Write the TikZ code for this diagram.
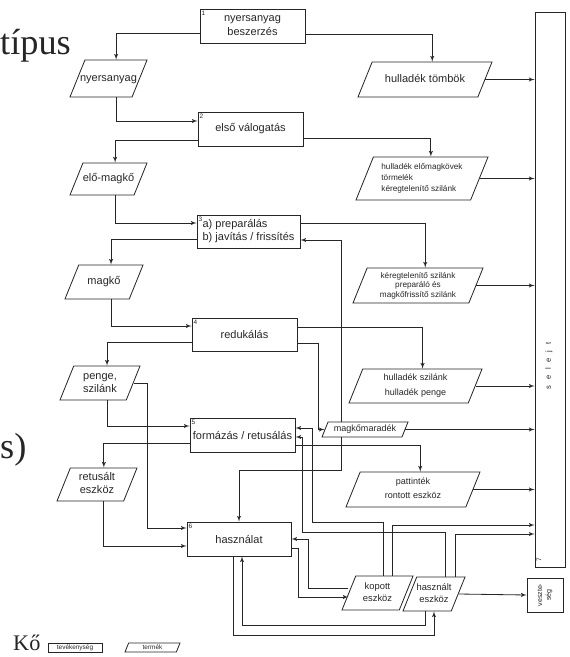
\documentclass[tikz,border=0pt]{standalone}
\usepackage{graphicx}
\usepackage{fontspec}
\setmainfont{Liberation Sans}
\newfontfamily\slidefont{Liberation Serif}
\usepackage{tikz}
\usetikzlibrary{arrows}
\usetikzlibrary{shapes.geometric}
\tikzstyle{act} = [rectangle, draw, line width=0.7pt, inner sep=1pt,
align=center, font=\fontsize{9.4}{12}\selectfont]
\tikzstyle{prod} = [trapezium, draw, line width=0.7pt, trapezium left angle=68,
trapezium right angle=112, trapezium stretches body, inner xsep=-5pt,
align=center, font=\fontsize{9.4}{11}\selectfont, text height=7pt, text depth=2.5pt]
\tikzstyle{num} = [font=\fontsize{5.5}{6}\selectfont, inner sep=1.5pt, anchor=north west]
\tikzstyle{frag} = [inner sep=0pt, font=\slidefont\fontsize{31}{31}\selectfont]
\tikzstyle{line} = [draw, -latex', line width=0.7pt]

\begin{document}
\begin{tikzpicture}[x=0.03cm, y=-0.03cm, color=black!85]
	\useasboundingbox (0,0) rectangle (569,657);
	% slide text behind the scan
	\node [frag, anchor=base west] at (0,55) (frag1) {típus};
	\node [frag, anchor=base west] at (0,458) (frag2) {s)};
	\node [frag, anchor=base west, font=\slidefont\fontsize{19}{19}\selectfont] at (13,650) (frag3) {Kő};
	% activities
	\node [act, minimum width=3.15cm, minimum height=1.02cm, label={[num]north west:1}] at (252.5,26) (act1) {nyersanyag\\beszerzés};
	\node [act, minimum width=3.15cm, minimum height=1.02cm, label={[num]north west:2}] at (250.5,129) (act2) {első válogatás};
	\node [act, minimum width=3.09cm, minimum height=0.99cm, align=left, font=\fontsize{9.4}{11}\selectfont, label={[num]north west:3}] at (248.5,231.5) (act3) {a) preparálás\\b) javítás / frissítés};
	\node [act, minimum width=3.15cm, minimum height=0.99cm, label={[num]north west:4}] at (244.5,334.5) (act4) {redukálás};
	\node [act, minimum width=3.15cm, minimum height=1.02cm, label={[num]north west:5}] at (242.5,435) (act5) {formázás / retusálás};
	\node [act, minimum width=3.12cm, minimum height=1.02cm, label={[num]north west:6}] at (239,539) (act6) {használat};
	\node [draw, line width=0.7pt, minimum width=0.9cm, minimum height=16.65cm, inner sep=0pt] at (550,289.5) (selejt) {};
	\node [rotate=90, font=\fontsize{6.5}{7}\selectfont] at (549,366) (selejttext) {s\hspace{.75em}e\hspace{.75em}l\hspace{.75em}e\hspace{.75em}j\hspace{.75em}t};
	\node [num, rotate=90, anchor=center] at (539,560) (selejtnum) {7};
	\node [draw, line width=0.7pt, minimum width=1.08cm, minimum height=1.02cm, inner sep=0pt, font=\fontsize{6}{6.5}\selectfont] at (545,595) (vesz) {\rotatebox{90}{\shortstack{veszte-\\ség}}};
	% products
	\node [prod, minimum width=2.31cm, inner ysep=11pt] at (108.5,78.5) (nyers) {nyersanyag};
	\node [prod, minimum width=4.02cm, inner ysep=10.2pt] at (425,79.5) (tomb) {hulladék tömbök};
	\node [prod, minimum width=2.31cm, inner ysep=8.9pt] at (108.5,179) (elo) {elő-magkő};
	\node [prod, minimum width=3.96cm, inner ysep=5.5pt, align=left, font=\fontsize{7}{9.4}\selectfont, text height=24.1pt, text depth=1.6pt] at (422,178.5) (hulle) {hulladék előmagkövek\\törmelék\\kéregtelenítő szilánk};
	\node [prod, minimum width=2.34cm, inner ysep=9.75pt] at (104,282) (mag) {magkő};
	\node [prod, minimum width=3.9cm, inner ysep=3.3pt, font=\fontsize{7}{8.2}\selectfont, text height=21.7pt, text depth=1.6pt] at (418,285.5) (kereg) {kéregtelenítő szilánk\\preparáló és\\magkőfrissítő szilánk};
	\node [prod, minimum width=2.4cm, inner ysep=4.25pt, text height=18pt] at (100,383) (penge) {penge,\\szilánk};
	\node [prod, minimum width=3.99cm, inner ysep=4.35pt, font=\fontsize{7.7}{12.8}\selectfont, text height=18.6pt, text depth=1.7pt] at (415.5,386) (hszil) {hulladék szilánk\\hulladék penge};
	\node [prod, minimum width=2.58cm, inner ysep=2.5pt, font=\fontsize{7.7}{9}\selectfont, text height=5.8pt, text depth=2pt] at (365,429.5) (marad) {magkőmaradék};
	\node [prod, minimum width=2.4cm, inner ysep=3.85pt, text height=18pt] at (97,484.5) (retus) {retusált\\eszköz};
	\node [prod, minimum width=4.02cm, inner ysep=5.2pt, font=\fontsize{7.7}{12}\selectfont, text height=17.8pt, text depth=1.7pt] at (413,489.5) (patt) {pattinték\\rontott eszköz};
	\node [prod, minimum width=2.13cm, inner ysep=5.85pt, font=\fontsize{8}{9.5}\selectfont, text height=15.5pt, text depth=1.8pt] at (377.5,593) (kop) {kopott\\eszköz};
	\node [prod, minimum width=1.86cm, inner ysep=5.85pt, font=\fontsize{8}{9.5}\selectfont, text height=15.5pt, text depth=1.8pt] at (434,594) (hasz) {használt\\eszköz};
	% legend
	\node [act, minimum width=1.62cm, minimum height=0.27cm, inner sep=0pt, font=\fontsize{5.5}{6}\selectfont] at (75,647.5) (legact) {tevékenység};
	\node [prod, minimum width=1.65cm, inner ysep=1.1pt, font=\fontsize{5.5}{6}\selectfont, text height=4.2pt, text depth=1.3pt] at (152.5,647.5) (legprod) {termék};
	% main chain
	\path [line] ([yshift=-0.21cm]act1.west) -| (nyers.top side);
	\path [line] ([yshift=-0.24cm]act1.east) -| (tomb.top side);
	\path [line] (nyers.top side |- nyers.south) |- ([yshift=0.24cm]act2.west);
	\path [line] ([yshift=-0.33cm]act2.west) -| (elo.top side);
	\path [line] ([yshift=-0.27cm]act2.east) -| (hulle.top side);
	\path [line] (elo.top side |- elo.south) |- ([yshift=0.255cm]act3.west);
	\path [line] ([yshift=-0.225cm]act3.west) -| (mag.top side);
	\path [line] ([yshift=0.255cm]act3.east) -| (kereg.top side);
	\path [line] (mag.top side |- mag.south) |- ([yshift=0.255cm]act4.west);
	\path [line] ([yshift=-0.225cm]act4.west) -| (penge.top side);
	\path [line] ([yshift=0.225cm]act4.east) -| (hszil.top side);
	\path [line] ([yshift=-0.255cm]act4.east) -| ([xshift=-0.18cm]marad.west) -- (marad.west);
	\path [line] ([xshift=-0.72cm]marad.north) |- ([yshift=-0.255cm]act3.east);
	\path [line] ([xshift=-0.72cm]marad.south) -- ++(0,33) -| (act6.north);
	\path [line] (penge.top side |- penge.south) |- ([yshift=0.27cm]act5.west);
	\path [line] (penge.east) -| ([xshift=-1.17cm,yshift=0.33cm]act6.west) -- ([yshift=0.33cm]act6.west);
	\path [line] ([yshift=-0.24cm]act5.west) -| (retus.top side);
	\path [line] (retus.top side |- retus.south) |- ([yshift=-0.21cm]act6.west);
	\path [line] ([yshift=-0.3cm]act5.east) -| (patt.top side);
	% back loops
	\path [line] ([xshift=0.165cm]kop.north) -- ++(0,-53) -| ([xshift=0.51cm,yshift=0.21cm]act5.east) -- ([yshift=0.21cm]act5.east);
	\path [line] ([xshift=0.33cm]hasz.north) -- ++(0,-44) -| ([xshift=0.21cm,yshift=-0.06cm]act5.east) -- ([yshift=-0.06cm]act5.east);
	\path [line] ([yshift=-0.27cm]act6.east) -- ++(7,0) |- ([yshift=-0.12cm]kop.west);
	\path [line] ([yshift=0.15cm]kop.west) -| ([xshift=0.51cm]act6.east) -- (act6.east);
	\path [line] ([xshift=-0.18cm]act6.south) -- ++(0,79) -| (hasz.south);
	\path [line] ([xshift=-0.27cm]hasz.south) -- ++(0,14) -| ([xshift=0.09cm]act6.south);
	% waste
	\path [line] (tomb.east) -- (tomb.east -| selejt.west);
	\path [line] (hulle.east) -- (hulle.east -| selejt.west);
	\path [line] (kereg.east) -- (kereg.east -| selejt.west);
	\path [line] (hszil.east) -- (hszil.east -| selejt.west);
	\path [line] (marad.east) -- (marad.east -| selejt.west);
	\path [line] (patt.east) -- (patt.east -| selejt.west);
	\path [line] ([xshift=0.435cm]kop.north) |- ([yshift=-7.065cm]selejt.west);
	\path [line] ([xshift=0.63cm]hasz.north) |- ([yshift=-7.335cm]selejt.west);
	\path [line] (hasz.east) -- (vesz.west);
\end{tikzpicture}
\end{document}
